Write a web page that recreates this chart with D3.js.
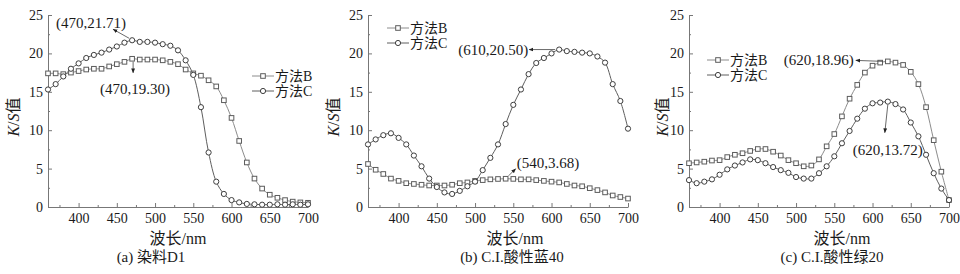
<!DOCTYPE html>
<html>
<head>
<meta charset="utf-8">
<script src="https://cdn.jsdelivr.net/npm/d3@7"></script>
<style>
  body { margin: 0; background: #fff; }
  svg text { font-family: "Liberation Serif", "Noto Sans CJK SC", serif; fill: #1a1a1a; }
</style>
</head>
<body>
<div id="chart"></div>
<script>
// 波长 (nm)
const wavelengths = [360, 370, 380, 390, 400, 410, 420, 430, 440, 450, 460, 470, 480, 490, 500, 510, 520,
    530, 540, 550, 560, 570, 580, 590, 600, 610, 620, 630, 640, 650, 660, 670, 680, 690, 700];

// (a) 染料D1
const dyeD1_B = [17.4, 17.4, 17.3, 17.5, 17.7, 17.9, 18.0, 18.0, 18.3, 18.6, 18.9, 19.3, 19.2, 19.2, 19.2, 19.1, 18.9,
    18.6, 17.9, 17.4, 17.1, 16.5, 15.7, 13.9, 11.6, 8.6, 5.8, 3.7, 2.4, 1.6, 1.2, 0.9, 0.7, 0.6, 0.55];
const dyeD1_C = [15.3, 16.0, 17.0, 18.0, 18.7, 19.4, 19.8, 20.1, 20.5, 20.9, 21.4, 21.71, 21.5, 21.5, 21.4, 21.2, 21.0,
    20.4, 19.1, 17.2, 13.0, 7.1, 3.3, 1.7, 0.9, 0.6, 0.4, 0.35, 0.3, 0.3, 0.35, 0.3, 0.35, 0.3, 0.35];

// (b) C.I.酸性蓝40
const blue40_B = [5.6, 4.85, 4.3, 3.7, 3.4, 3.1, 3.0, 2.9, 2.8, 2.8, 2.8, 2.9, 3.1, 3.2, 3.4, 3.5, 3.6,
    3.65, 3.68, 3.66, 3.6, 3.6, 3.5, 3.4, 3.3, 3.2, 3.0, 2.8, 2.7, 2.45, 2.2, 1.9, 1.5, 1.3, 1.1];
const blue40_C = [8.15, 8.8, 9.35, 9.6, 9.0, 8.15, 6.7, 5.3, 3.7, 2.6, 1.9, 1.7, 2.1, 2.7, 3.3, 4.8, 6.4,
    8.15, 10.8, 13.3, 15.3, 17.3, 18.75, 19.4, 20.0, 20.5, 20.3, 20.2, 20.1, 20.0, 19.6, 18.8, 16.0, 13.8, 10.2];

// (c) C.I.酸性绿20
const green20_B = [5.7, 5.8, 5.9, 6.05, 6.1, 6.5, 6.8, 7.0, 7.3, 7.55, 7.55, 7.2, 6.7, 6.1, 5.7, 5.3, 5.4,
    6.2, 7.9, 9.5, 11.8, 14.1, 15.9, 17.5, 18.4, 18.8, 18.96, 18.8, 18.5, 17.6, 16.0, 13.0, 8.7, 4.6, 0.9];
const green20_C = [3.5, 3.1, 3.3, 3.6, 4.2, 4.9, 5.4, 5.8, 6.2, 6.1, 5.7, 5.2, 4.8, 4.45, 3.9, 3.7, 3.7,
    4.4, 5.3, 6.6, 8.3, 9.9, 11.5, 12.8, 13.5, 13.6, 13.72, 13.4, 12.7, 11.0, 9.2, 6.8, 4.4, 2.4, 0.9];

const xTicks = [400, 450, 500, 550, 600, 650, 700];
const xMinorTicks = [375, 425, 475, 525, 575, 625, 675];
const yTicks = [0, 5, 10, 15, 20, 25];
const yMinorTicks = [2.5, 7.5, 12.5, 17.5, 22.5];
const seriesNames = ["方法B", "方法C"];
const captions = ["(a) 染料D1", "(b) C.I.酸性蓝40", "(c) C.I.酸性绿20"];

// 标注: [波长, 值, 文字]
const notesA = [[470, 21.71, "(470,21.71)"], [470, 19.30, "(470,19.30)"]];
const notesB = [[610, 20.50, "(610,20.50)"], [540, 3.68, "(540,3.68)"]];
const notesC = [[620, 18.96, "(620,18.96)"], [620, 13.72, "(620,13.72)"]];

const width = 960, height = 274;
const plotW = 260, plotH = 192, plotTop = 15;

// 每个子图的布局
const panels = [
    { left: 48, B: dyeD1_B, C: dyeD1_C, notes: notesA, caption: captions[0],
      legend: { x: 204, y: 61 }, ylab: -35, xlabDx: 0, capX: 151,
      noteLayout: [{ anchor: "middle", tx: -41, ty: -17, a0: [-3, -2], a1: [-19, -11] },
                   { anchor: "middle", tx: 3, ty: 30, a0: [1, 3], a1: [1, 14] }] },
    { left: 368, B: blue40_B, C: blue40_C, notes: notesB, caption: captions[1],
      legend: { x: 19, y: 13 }, ylab: -35, xlabDx: 17, capX: 512,
      noteLayout: [{ anchor: "end", tx: -31, ty: 0, a0: [-4, 0], a1: [-30, 0] },
                   { anchor: "start", tx: 11, ty: -16, a0: [3, -3], a1: [10, -10] }] },
    { left: 689, B: green20_B, C: green20_C, notes: notesC, caption: captions[2],
      legend: { x: 18, y: 45 }, ylab: -27, xlabDx: 23, capX: 832,
      noteLayout: [{ anchor: "end", tx: -34, ty: -1, a0: [-5, 0], a1: [-32, -1] },
                   { anchor: "middle", tx: 0, ty: 48, a0: [0, 3], a1: [-3, 31] }] }
];

const styleB = { line: "#8c8c8c", mark: "#5c5c5c" };
const styleC = { line: "#5e5e5e", mark: "#3e3e3e" };

const svg = d3.select("#chart").append("svg")
    .attr("width", width)
    .attr("height", height);

svg.append("defs").append("marker")
    .attr("id", "arrow")
    .attr("viewBox", "0 0 10 10")
    .attr("refX", 9).attr("refY", 5)
    .attr("markerWidth", 6).attr("markerHeight", 6)
    .attr("orient", "auto")
    .append("path")
    .attr("d", "M0,1 L10,5 L0,9 Z")
    .attr("fill", "#222");

function drawMarker(g, kind, x, y, st) {
    if (kind === "B") {
        g.append("rect")
            .attr("x", x - 2.3).attr("y", y - 2.3)
            .attr("width", 4.6).attr("height", 4.6)
            .attr("fill", "#fff").attr("stroke", st.mark).attr("stroke-width", 1);
    } else {
        g.append("circle")
            .attr("cx", x).attr("cy", y).attr("r", 2.6)
            .attr("fill", "#fff").attr("stroke", st.mark).attr("stroke-width", 1);
    }
}

panels.forEach(function (p) {
    let x = d3.scaleLinear().domain([360, 700]).range([0, plotW]);
    let y = d3.scaleLinear().domain([0, 25]).range([plotH, 0]);

    let g = svg.append("g")
        .attr("transform", "translate(" + p.left + "," + plotTop + ")");

    // 坐标轴
    g.append("g")
        .attr("transform", "translate(0," + plotH + ")")
        .call(d3.axisBottom(x).tickValues(xTicks).tickSize(-4).tickPadding(6).tickSizeOuter(0));
    g.append("g")
        .attr("transform", "translate(0," + plotH + ")")
        .call(d3.axisBottom(x).tickValues(xMinorTicks).tickSize(-2).tickFormat("").tickSizeOuter(0))
        .select(".domain").remove();
    g.append("g")
        .call(d3.axisLeft(y).tickValues(yTicks).tickSize(-4).tickPadding(5).tickSizeOuter(0));
    g.append("g")
        .call(d3.axisLeft(y).tickValues(yMinorTicks).tickSize(-2).tickFormat("").tickSizeOuter(0))
        .select(".domain").remove();

    g.selectAll(".domain, .tick line").attr("stroke", "#777");
    g.selectAll(".tick text")
        .attr("font-size", 14)
        .style("font-family", "'Liberation Serif', serif")
        .attr("fill", "#1a1a1a");

    // 曲线
    let line = d3.line()
        .x(function (d, i) { return x(wavelengths[i]); })
        .y(function (d) { return y(d); })
        .curve(d3.curveCatmullRom);

    [["B", p.B, styleB], ["C", p.C, styleC]].forEach(function (s) {
        g.append("path")
            .datum(s[1])
            .attr("d", line)
            .attr("fill", "none")
            .attr("stroke", s[2].line)
            .attr("stroke-width", 1);
        let mg = g.append("g");
        s[1].forEach(function (v, i) {
            drawMarker(mg, s[0], x(wavelengths[i]), y(v), s[2]);
        });
    });

    // 标注
    p.notes.forEach(function (n, i) {
        let lay = p.noteLayout[i];
        let px = x(n[0]), py = y(n[1]);
        g.append("line")
            .attr("x1", px + lay.a0[0]).attr("y1", py + lay.a0[1])
            .attr("x2", px + lay.a1[0]).attr("y2", py + lay.a1[1])
            .attr("stroke", "#444")
            .attr("stroke-width", 0.8)
            .attr("marker-end", "url(#arrow)");
        g.append("text")
            .attr("x", px + lay.tx).attr("y", py + lay.ty)
            .attr("text-anchor", lay.anchor)
            .attr("dominant-baseline", "central")
            .attr("font-size", 15)
            .text(n[2]);
    });

    // 图例
    let lg = g.append("g")
        .attr("transform", "translate(" + p.legend.x + "," + p.legend.y + ")");
    [["B", styleB], ["C", styleC]].forEach(function (s, i) {
        let ly = i * 15;
        lg.append("line")
            .attr("x1", 0).attr("x2", 22)
            .attr("y1", ly).attr("y2", ly)
            .attr("stroke", s[1].line);
        drawMarker(lg, s[0], 11, ly, s[1]);
        lg.append("text")
            .attr("x", 23).attr("y", ly)
            .attr("dominant-baseline", "central")
            .attr("font-size", 14)
            .text(seriesNames[i]);
    });

    // 轴标题
    let yl = g.append("text")
        .attr("transform", "translate(" + p.ylab + "," + (plotH / 2 + 6) + ") rotate(-90)")
        .attr("text-anchor", "middle")
        .attr("dominant-baseline", "central")
        .attr("font-size", 16);
    yl.append("tspan").attr("font-style", "italic").text("K");
    yl.append("tspan").text("/");
    yl.append("tspan").attr("font-style", "italic").text("S");
    yl.append("tspan").text("值");

    g.append("text")
        .attr("x", plotW / 2 + p.xlabDx)
        .attr("y", plotH + 31)
        .attr("text-anchor", "middle")
        .attr("dominant-baseline", "central")
        .attr("font-size", 16)
        .text("波长/nm");

    svg.append("text")
        .attr("x", p.capX)
        .attr("y", 257)
        .attr("text-anchor", "middle")
        .attr("dominant-baseline", "central")
        .attr("font-size", 15)
        .text(p.caption);
});
</script>
</body>
</html>
